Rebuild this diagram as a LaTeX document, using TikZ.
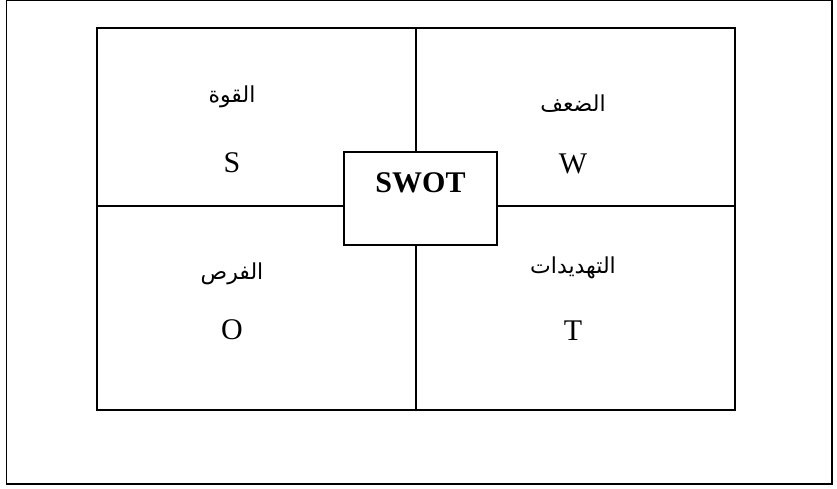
\documentclass[tikz,border=0pt]{standalone}
\usepackage{fontspec}
\setmainfont{Liberation Serif}
\newfontfamily\arabicfont[Script=Arabic]{DejaVu Sans}
\TeXXeTstate=1
\begin{document}
\begin{tikzpicture}[x=1pt,y=-1pt,
  frame/.style={draw=black,line width=1.3pt},
  grid/.style={draw=black,line width=1.3pt},
  latin/.style={font=\fontsize{30}{34}\selectfont,anchor=center},
  arab/.style={font=\arabicfont\fontsize{22}{26}\selectfont,anchor=center},
  corebox/.style={draw=black,line width=1.3pt,fill=white,minimum width=153pt,minimum height=93pt,inner sep=0pt}]
  \useasboundingbox (0,0) rectangle (837,488);
  % outer frame
  \draw[frame] (6.5,0.7) rectangle (832,484);
  % SWOT quadrant grid
  \coordinate (tl) at (97,28);
  \coordinate (br) at (735,410);
  \coordinate (top) at (416,28);
  \coordinate (bot) at (416,410);
  \coordinate (lft) at (97,206);
  \coordinate (rgt) at (735,206);
  \draw[grid] (tl) rectangle (br);
  \draw[grid] (top) -- (bot);
  \draw[grid] (lft) -- (rgt);
  % central box
  \node[corebox] (core) at (420.5,198.5) {};
  \node[latin,font=\fontsize{30}{34}\selectfont\bfseries] (swot) at (420.5,183) {SWOT};
  % quadrant labels
  \node[arab] (sA) at (232,97) {\beginR القوة\endR};
  \node[latin] (sL) at (232,163) {S};
  \node[arab] (wA) at (573,104) {\beginR الضعف\endR};
  \node[latin] (wL) at (573,164) {W};
  \node[arab] (oA) at (232,274) {\beginR الفرص\endR};
  \node[latin] (oL) at (232,330) {O};
  \node[arab] (tA) at (573,268) {\beginR التهديدات\endR};
  \node[latin] (tL) at (573,331) {T};
\end{tikzpicture}
\end{document}
